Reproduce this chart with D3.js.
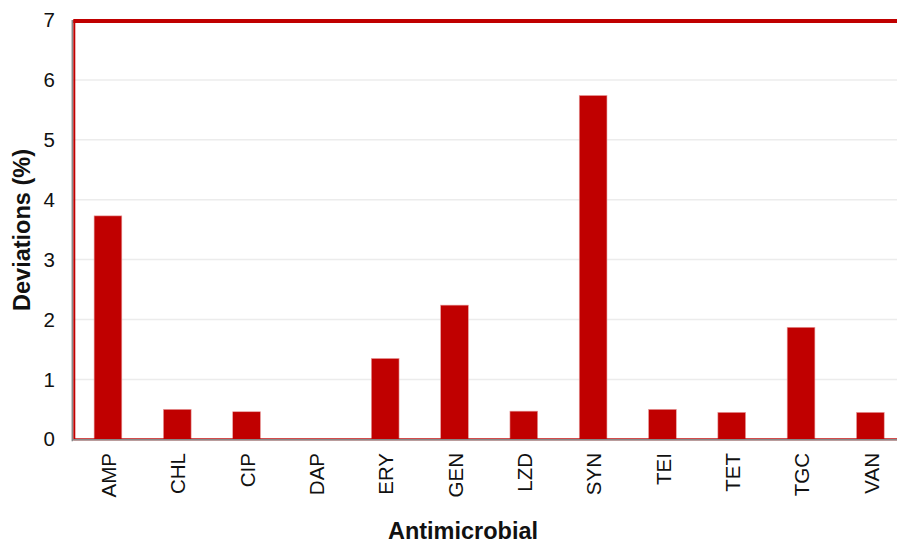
<!DOCTYPE html>
<html><head><meta charset="utf-8">
<script src="https://cdn.jsdelivr.net/npm/d3@7"></script>
<style>body{margin:0;background:#fff}svg{display:block;font-family:"Liberation Sans",Arial,sans-serif}</style>
</head><body><svg id="c" width="897" height="543"></svg>
<script>
const categories = ["AMP","CHL","CIP","DAP","ERY","GEN","LZD","SYN","TEI","TET","TGC","VAN"];
const values = [3.73, 0.50, 0.46, 0, 1.35, 2.24, 0.47, 5.74, 0.50, 0.45, 1.87, 0.45];
const yTicks = [0,1,2,3,4,5,6,7];
const yTitle = "Deviations (%)";
const xTitle = "Antimicrobial";

const svg = d3.select("#c");
const L = 73.3, R = 905, T = 20, B = 439.3;
const x = d3.scaleBand().domain(categories).range([L, R]).paddingInner(0.6).paddingOuter(0.3);
const y = d3.scaleLinear().domain([0,7]).range([B, T]);

// gridlines
svg.append("g").selectAll("line").data(yTicks.filter(d=>d>0&&d<7)).join("line")
  .attr("x1", L).attr("x2", R).attr("y1", d=>y(d)).attr("y2", d=>y(d))
  .attr("stroke", "#ececec").attr("stroke-width", 1.5);

// bars
svg.append("g").selectAll("rect").data(categories).join("rect")
  .attr("x", d=>x(d)).attr("width", x.bandwidth())
  .attr("y", (d,i)=>y(values[i])).attr("height", (d,i)=>B - y(values[i]))
  .attr("fill", "#c00000").attr("stroke", "#e8a0a0").attr("stroke-width", 0.6);

// plot border (red)
svg.append("rect").attr("x", L+1).attr("y", T+1).attr("width", R-L).attr("height", B-T-1)
  .attr("fill","none").attr("stroke","#c00000").attr("stroke-width",2);
svg.append("line").attr("x1", L).attr("x2", R).attr("y1", y(7)+1).attr("y2", y(7)+1)
  .attr("stroke","#c00000").attr("stroke-width",4);

// axes lines (grey)
svg.append("line").attr("x1", L-1).attr("x2", L-1).attr("y1", T).attr("y2", B+2)
  .attr("stroke","#888").attr("stroke-width",1.5);
svg.append("line").attr("x1", L-1).attr("x2", R).attr("y1", B+0.5).attr("y2", B+0.5)
  .attr("stroke","#888").attr("stroke-width",1.5);

// y tick labels
svg.append("g").selectAll("text").data(yTicks).join("text")
  .attr("x", 55).attr("y", d=>y(d)).attr("dy","0.35em").attr("text-anchor","end")
  .attr("font-size", 20.5).attr("fill","#111").text(d=>d);

// x tick labels
svg.append("g").selectAll("text").data(categories).join("text")
  .attr("transform", d=>`translate(${x(d)+x.bandwidth()/2+1},453) rotate(-90)`)
  .attr("text-anchor","end").attr("dy","0.35em")
  .attr("font-size", 20.5).attr("fill","#111").text(d=>d);

// titles
svg.append("text").attr("transform","translate(22,230) rotate(-90)").attr("text-anchor","middle")
  .attr("dy","0.35em").attr("font-size",23.5).attr("font-weight","bold").attr("fill","#111").text(yTitle);
svg.append("text").attr("x", 463).attr("y", 531).attr("text-anchor","middle").attr("dy","0.35em")
  .attr("font-size",23.5).attr("font-weight","bold").attr("fill","#111").text(xTitle);
</script></body></html>
